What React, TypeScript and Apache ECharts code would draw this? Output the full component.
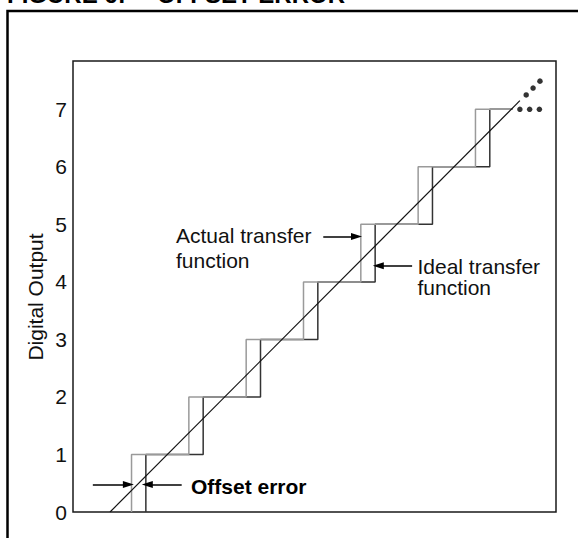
import React, { useEffect, useRef } from "react";
import * as echarts from "echarts";

// ---- data ----
const yTickLabels = ["0", "1", "2", "3", "4", "5", "6", "7"];
const outputCodes = [1, 2, 3, 4, 5, 6, 7];
const idealTransitions = [0.625, 1.625, 2.625, 3.625, 4.625, 5.625, 6.625];
const actualTransitions = [0.375, 1.375, 2.375, 3.375, 4.375, 5.375, 6.375];
const stepEnd = 7.03;
const diagonalLine = [
  [0, 0],
  [7.15, 7.15],
];
const dotsRow = [
  [7.15, 7],
  [7.32, 7],
  [7.49, 7],
];
const dotsDiagonal = [
  [7.26, 7.25],
  [7.38, 7.37],
  [7.5, 7.49],
];
// arrows: [tailX, tipX, y]
const offsetArrowLeft = [-0.3, 0.32, 0.48];
const offsetArrowRight = [1.25, 0.65, 0.48];
const actualArrow = [3.72, 4.3, 4.79];
const idealArrow = [5.27, 4.68, 4.28];

const FONT = "'Liberation Sans', Arial, Helvetica, sans-serif";

function staircase(transitions: number[]) {
  const pts: number[][] = [];
  transitions.forEach((x, i) => {
    pts.push([x, outputCodes[i] - 1]);
    pts.push([x, outputCodes[i]]);
  });
  pts.push([stepEnd, outputCodes[outputCodes.length - 1]]);
  return pts;
}

function arrow(a: number[]) {
  return [{ coord: [a[0], a[2]] }, { coord: [a[1], a[2]] }];
}

export default function App() {
  const ref = useRef<HTMLDivElement>(null);
  useEffect(() => {
    if (!ref.current) return;
    const chart = echarts.init(ref.current, null, { renderer: "svg" });
    const option: any = {
      animation: false,
      backgroundColor: "#ffffff",
      grid: {
        left: 73,
        top: 61,
        right: 22,
        bottom: 26,
        show: true,
        borderColor: "#1a1a1a",
        borderWidth: 1.5,
      },
      xAxis: {
        type: "value",
        min: -0.646,
        max: 7.78,
        show: false,
      },
      yAxis: {
        type: "value",
        min: 0,
        max: 7.84,
        interval: 1,
        axisLine: { show: false },
        axisTick: { show: false },
        splitLine: { show: false },
        axisLabel: {
          margin: 6,
          fontSize: 21,
          color: "#111",
          fontFamily: FONT,
          formatter: (v: number) => yTickLabels[v] ?? "",
        },
      },
      series: [
        {
          name: "Ideal transfer function",
          type: "line",
          data: staircase(idealTransitions),
          showSymbol: false,
          lineStyle: { color: "#333", width: 1.5 },
          z: 2,
        },
        {
          name: "Actual transfer function",
          type: "line",
          data: staircase(actualTransitions),
          showSymbol: false,
          lineStyle: { color: "#9a9a9a", width: 1.5 },
          z: 3,
        },
        {
          name: "Diagonal",
          type: "line",
          data: diagonalLine,
          showSymbol: false,
          lineStyle: { color: "#111", width: 1.2 },
          z: 4,
          markLine: {
            silent: true,
            symbol: ["none", "triangle"],
            symbolSize: [7, 11],
            label: { show: false },
            lineStyle: { color: "#000", width: 1.5, type: "solid" },
            data: [
              arrow(offsetArrowLeft),
              arrow(offsetArrowRight),
              arrow(actualArrow),
              arrow(idealArrow),
            ],
          },
        },
        {
          name: "Continuation",
          type: "scatter",
          data: [...dotsRow, ...dotsDiagonal],
          symbolSize: 5.5,
          itemStyle: { color: "#000" },
          z: 5,
        },
      ],
      graphic: [
        {
          type: "rect",
          shape: { x: 7.5, y: 11, width: 620, height: 600 },
          style: { fill: "none", stroke: "#000", lineWidth: 2.5 },
          silent: true,
        },
        {
          type: "text",
          x: 7,
          y: -5.3,
          style: {
            text: "FIGURE 6:",
            font: `bold 24px ${FONT}`,
            fill: "#000",
            align: "left",
            verticalAlign: "middle",
          },
        },
        {
          type: "text",
          x: 157,
          y: -5.3,
          style: {
            text: "OFFSET ERROR",
            font: `bold 24px ${FONT}`,
            fill: "#000",
            align: "left",
            verticalAlign: "middle",
          },
        },
        {
          type: "text",
          x: 35.5,
          y: 297,
          rotation: Math.PI / 2,
          style: {
            text: "Digital Output",
            font: `21px ${FONT}`,
            fill: "#111",
            align: "center",
            verticalAlign: "middle",
          },
        },
        {
          type: "text",
          x: 176,
          y: 235.5,
          style: { text: "Actual transfer", font: `21px ${FONT}`, fill: "#111", align: "left", verticalAlign: "middle" },
        },
        {
          type: "text",
          x: 176,
          y: 260.5,
          style: { text: "function", font: `21px ${FONT}`, fill: "#111", align: "left", verticalAlign: "middle" },
        },
        {
          type: "text",
          x: 417.5,
          y: 266,
          style: { text: "Ideal transfer", font: `21px ${FONT}`, fill: "#111", align: "left", verticalAlign: "middle" },
        },
        {
          type: "text",
          x: 417.5,
          y: 287,
          style: { text: "function", font: `21px ${FONT}`, fill: "#111", align: "left", verticalAlign: "middle" },
        },
        {
          type: "text",
          x: 191,
          y: 486,
          style: { text: "Offset error", font: `bold 21px ${FONT}`, fill: "#000", align: "left", verticalAlign: "middle" },
        },
      ],
    };
    chart.setOption(option);
    return () => chart.dispose();
  }, []);
  return (
    <div
      ref={ref}
      style={{ position: "absolute", left: 0, top: 0, width: 578, height: 538 }}
    />
  );
}
